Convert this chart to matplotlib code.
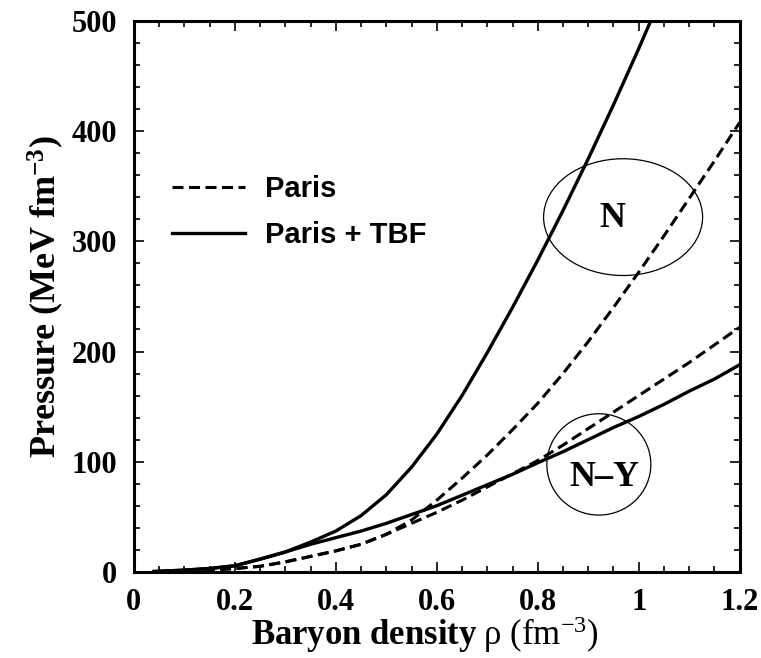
# pressure vs baryon density, Paris potential with / without three-body forces

import matplotlib
matplotlib.use('Agg')
import matplotlib.pyplot as plt
from matplotlib.patches import Ellipse
from matplotlib.ticker import MultipleLocator

plt.rcParams['font.family'] = ['Liberation Serif', 'DejaVu Serif']
plt.rcParams['mathtext.fontset'] = 'custom'
plt.rcParams['mathtext.rm'] = 'Liberation Serif'
plt.rcParams['mathtext.bf'] = 'Liberation Serif:bold'
plt.rcParams['mathtext.it'] = 'Liberation Serif:italic'

# baryon density [fm^-3]
rho = [0.04, 0.1, 0.15, 0.2, 0.25, 0.3, 0.35, 0.4, 0.45, 0.5, 0.55, 0.6,
       0.65, 0.7, 0.75, 0.8, 0.85, 0.9, 0.95, 1.0, 1.05, 1.1, 1.15, 1.2]

# nucleonic matter, Paris + TBF (solid), stops once it leaves the frame
rho_n_tbf = rho[:21]
p_n_tbf = [0.3, 1.5, 3, 5.5, 11.5, 18, 27, 37, 51, 70, 95, 125,
           160, 199, 240, 283, 328, 375, 424, 475, 528]

# nucleonic matter, Paris (dashed)
p_n_paris = [0.1, 0.5, 1.5, 3, 5, 9, 14, 19, 25, 34, 47, 65,
             85, 106, 129, 153, 180, 209, 240, 272, 305, 339, 373, 408]

# nucleons + hyperons, Paris + TBF (solid)
p_ny_tbf = [0.3, 1.5, 3, 5.5, 11.5, 18, 25, 31, 37, 44, 52, 60,
            69.5, 79, 88.5, 99, 109, 120, 131, 141, 152, 164, 175, 188]

# nucleons + hyperons, Paris (dashed)
p_ny_paris = [0.1, 0.5, 1.5, 3, 5, 9, 14, 19, 25, 34, 44, 54,
              65, 77, 89, 101, 115, 130, 145, 160, 175, 190, 206, 222]

fig = plt.figure(figsize=(7.61, 6.58), dpi=100)
ax = fig.add_axes([0.176, 0.131, 0.796, 0.837])

dash = (3.6, 1.8)
ax.plot(rho, p_n_paris, color='k', lw=2.2, dashes=dash, label='Paris')
ax.plot(rho_n_tbf, p_n_tbf, color='k', lw=2.4, label='Paris + TBF')
ax.plot(rho, p_ny_paris, color='k', lw=2.2, dashes=dash)
ax.plot(rho, p_ny_tbf, color='k', lw=2.4)

# circles marking the two families of curves
ax.add_patch(Ellipse((0.969, 322), 0.315, 106, fill=False, lw=0.9, color='k'))
ax.add_patch(Ellipse((0.921, 97.5), 0.206, 92, fill=False, lw=0.9, color='k'))
ax.text(0.947, 321, 'N', fontsize=26, fontweight='bold', ha='center', va='center')
ax.text(0.933, 86, 'N\u2013Y', fontsize=26, fontweight='bold', ha='center', va='center')

ax.set_xlim(0, 1.2)
ax.set_ylim(0, 500)
ax.xaxis.set_major_locator(MultipleLocator(0.2))
ax.xaxis.set_minor_locator(MultipleLocator(0.05))
ax.yaxis.set_major_locator(MultipleLocator(100))
ax.yaxis.set_minor_locator(MultipleLocator(20))
ax.set_xticks([0, 0.2, 0.4, 0.6, 0.8, 1.0, 1.2])
ax.set_xticklabels(['0', '0.2', '0.4', '0.6', '0.8', '1', '1.2'])
ax.tick_params(which='both', direction='in', top=True, right=True, width=1.2)
ax.tick_params(which='major', length=7, pad=12, labelsize=22)
ax.tick_params(which='minor', length=4)
for lab in ax.get_xticklabels() + ax.get_yticklabels():
    lab.set_fontweight('bold')
for sp in ax.spines.values():
    sp.set_linewidth(2.2)

ax.set_xlabel(r'$\mathbf{Baryon\ density}\ \mathrm{\rho\ (fm}^{-3}\mathrm{)}$', fontsize=25, labelpad=-2)
ax.xaxis.label.set_x(0.48)
ax.set_ylabel(r'$\mathbf{Pressure\ (MeV\ fm}^{\mathbf{-3}}\mathbf{)}$', fontsize=26, labelpad=4)

leg = ax.legend(loc='upper left', bbox_to_anchor=(0.063, 0.72), frameon=False,
                prop={'family': 'Liberation Sans', 'weight': 'bold', 'size': 21},
                handlelength=2.5, handletextpad=0.7, labelspacing=0.6,
                borderpad=0, borderaxespad=0)

fig.savefig('out.png', dpi=100)
